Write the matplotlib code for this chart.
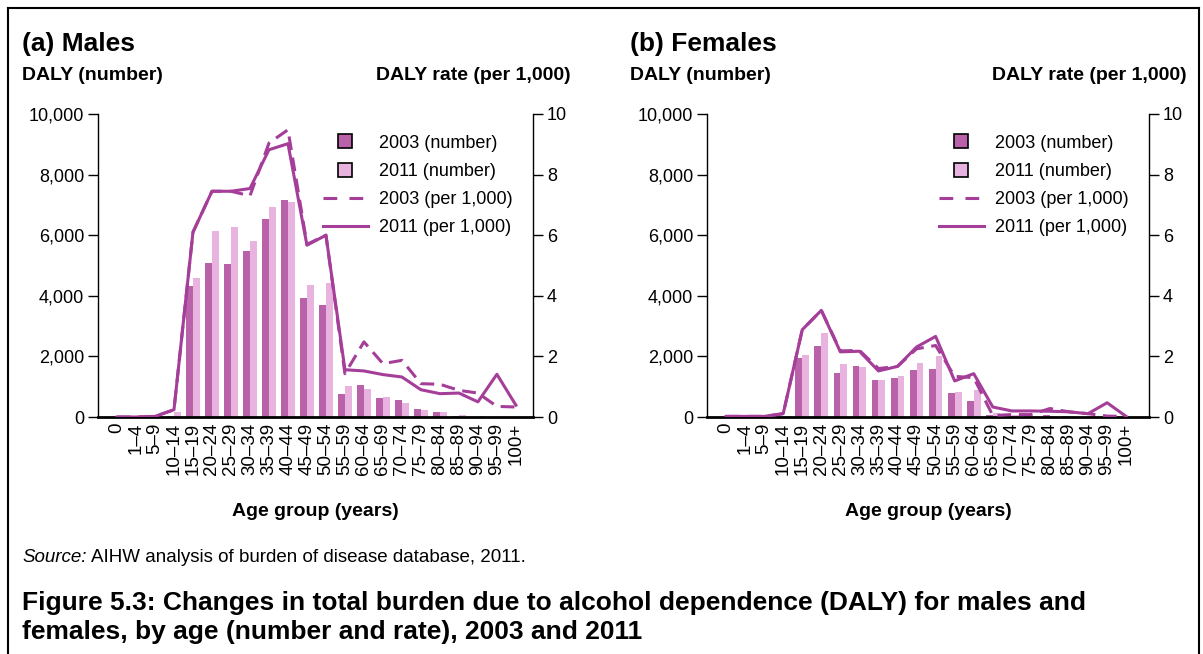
import numpy as np
import matplotlib
matplotlib.use("Agg")
import matplotlib.pyplot as plt
from matplotlib.lines import Line2D
from matplotlib.text import Annotation

plt.rcParams['font.family'] = ['Liberation Sans', 'DejaVu Sans']

ages = ["0", "1–4", "5–9", "10–14", "15–19", "20–24", "25–29", "30–34", "35–39",
        "40–44", "45–49", "50–54", "55–59", "60–64", "65–69", "70–74", "75–79",
        "80–84", "85–89", "90–94", "95–99", "100+"]

# DALY number
male_num_2003 = [0, 0, 0, 20, 4310, 5070, 5040, 5470, 6520, 7150, 3920, 3690,
                 750, 1045, 615, 550, 255, 155, 20, 10, 0, 0]
male_num_2011 = [0, 0, 0, 165, 4580, 6130, 6260, 5800, 6920, 7085, 4345, 4410,
                 1010, 915, 650, 450, 220, 155, 55, 20, 0, 0]
female_num_2003 = [0, 0, 0, 0, 1950, 2330, 1440, 1670, 1210, 1275, 1540, 1570,
                   780, 520, 55, 20, 20, 55, 20, 10, 10, 0]
female_num_2011 = [0, 0, 0, 45, 2035, 2770, 1740, 1640, 1210, 1340, 1770, 2000,
                   815, 880, 145, 65, 35, 40, 30, 20, 65, 0]

# DALY rate per 1,000
male_rate_2003 = [0, 0, 0.02, 0.24, 6.1, 7.45, 7.45, 7.3, 9.04, 9.48, 5.7, 6.0,
                  1.43, 2.48, 1.76, 1.87, 1.1, 1.08, 0.88, 0.79, 0.35, 0.33]
male_rate_2011 = [0, 0, 0.02, 0.24, 6.1, 7.45, 7.45, 7.54, 8.82, 9.02, 5.67, 6.0,
                  1.56, 1.52, 1.4, 1.32, 0.9, 0.77, 0.79, 0.5, 1.41, 0.39]
female_rate_2003 = [0.02, 0.02, 0.02, 0.11, 2.88, 3.52, 2.18, 2.2, 1.6, 1.67, 2.25, 2.36,
                    1.34, 1.3, 0.05, 0.08, 0.08, 0.28, 0.17, 0.11, 0.03, 0.02]
female_rate_2011 = [0.02, 0.02, 0.02, 0.11, 2.88, 3.52, 2.15, 2.17, 1.52, 1.67, 2.31, 2.66,
                    1.19, 1.43, 0.33, 0.2, 0.2, 0.19, 0.17, 0.11, 0.47, 0.02]

c_dark = '#B962AA'
c_light = '#E8B4DF'
c_line = '#A53E99'

fig = plt.figure(figsize=(12.03, 6.54), dpi=100)
W, H = 1203, 654


def panel(left_px, right_px, xmax, num03, num11, rate03, rate11, title, tx):
    ax = fig.add_axes([left_px / W, 1 - 417 / H, (right_px - left_px) / W, (417 - 114) / H])
    x = np.arange(len(ages))
    w = 0.36
    ax.bar(x - w / 2, num03, w, color=c_dark, zorder=2)
    ax.bar(x + w / 2, num11, w, color=c_light, zorder=2)
    ax.set_ylim(0, 10000)
    ax.set_xlim(-1, xmax)
    ax.set_yticks(range(0, 10001, 2000))
    ax.set_yticklabels([f"{v:,}" for v in range(0, 10001, 2000)], fontsize=13)
    ax.set_xticks(x)
    ax.set_xticklabels(ages, rotation=90, fontsize=13.5)
    ax.tick_params(axis='x', length=0, pad=4)
    ax.tick_params(axis='y', length=7, width=1, direction='out', pad=3)
    ax.spines['top'].set_visible(False)
    ax.spines['right'].set_visible(False)
    ax.spines['bottom'].set_linewidth(2)
    ax.spines['left'].set_linewidth(1)
    ax.set_xlabel("Age group (years)", fontsize=14, fontweight='bold', labelpad=20)

    ax2 = ax.twinx()
    ax2.plot(x, rate03, color=c_line, lw=2.2, dashes=(4.5, 2.5), zorder=3)
    ax2.plot(x, rate11, color=c_line, lw=2.2, zorder=3)
    ax2.set_ylim(0, 10)
    ax2.set_yticks(range(0, 11, 2))
    ax2.tick_params(axis='y', length=7, width=1, direction='out', labelsize=13, pad=3)
    for s in ['top', 'left', 'bottom']:
        ax2.spines[s].set_visible(False)
    ax2.spines['right'].set_linewidth(1)

    handles = [
        Line2D([], [], ls='none', marker='s', markersize=10, markerfacecolor=c_dark,
               markeredgecolor='black', markeredgewidth=1.2),
        Line2D([], [], ls='none', marker='s', markersize=10, markerfacecolor=c_light,
               markeredgecolor='black', markeredgewidth=1.2),
        Line2D([], [], color=c_line, lw=2.2, dashes=(4.5, 4)),
        Line2D([], [], color=c_line, lw=2.2),
    ]
    ax2.legend(handles, ["2003 (number)", "2011 (number)", "2003 (per 1,000)", "2011 (per 1,000)"],
               loc='upper right', bbox_to_anchor=(0.99, 0.985), frameon=False, fontsize=13,
               handlelength=2.5, handletextpad=0.6, labelspacing=0.62)

    fig.text(tx / W, 1 - 44 / H, title, fontsize=19, fontweight='bold', va='center')
    fig.text(tx / W, 1 - 76 / H, "DALY (number)", fontsize=14, fontweight='bold', va='center')
    fig.text((right_px + 38) / W, 1 - 76 / H, "DALY rate (per 1,000)", fontsize=14,
             fontweight='bold', va='center', ha='right')


panel(98, 533, 21.9, male_num_2003, male_num_2011, male_rate_2003, male_rate_2011,
      "(a) Males", 22)
panel(707, 1149, 22.2, female_num_2003, female_num_2011, female_rate_2003, female_rate_2011,
      "(b) Females", 630)

src = fig.text(22 / W, 1 - 558 / H, "Source:", fontsize=13.5, style='italic', va='center')
fig.add_artist(Annotation("AIHW analysis of burden of disease database, 2011.",
                          xy=(1, 0.5), xycoords=src, xytext=(3, 0), textcoords='offset points',
                          fontsize=13.5, va='center'))
fig.text(22 / W, 1 - 603 / H,
         "Figure 5.3: Changes in total burden due to alcohol dependence (DALY) for males and",
         fontsize=19, fontweight='bold', va='center')
fig.text(22 / W, 1 - 632 / H, "females, by age (number and rate), 2003 and 2011",
         fontsize=19, fontweight='bold', va='center')

# outer frame
fig.add_artist(Line2D([8 / W, 8 / W], [0, 1 - 8 / H], color='black', lw=1.5))
fig.add_artist(Line2D([8 / W, 1199 / W], [1 - 8 / H, 1 - 8 / H], color='black', lw=1.5))
fig.add_artist(Line2D([1199 / W, 1199 / W], [0, 1 - 8 / H], color='black', lw=1.5))

fig.savefig("out.png", dpi=100)
